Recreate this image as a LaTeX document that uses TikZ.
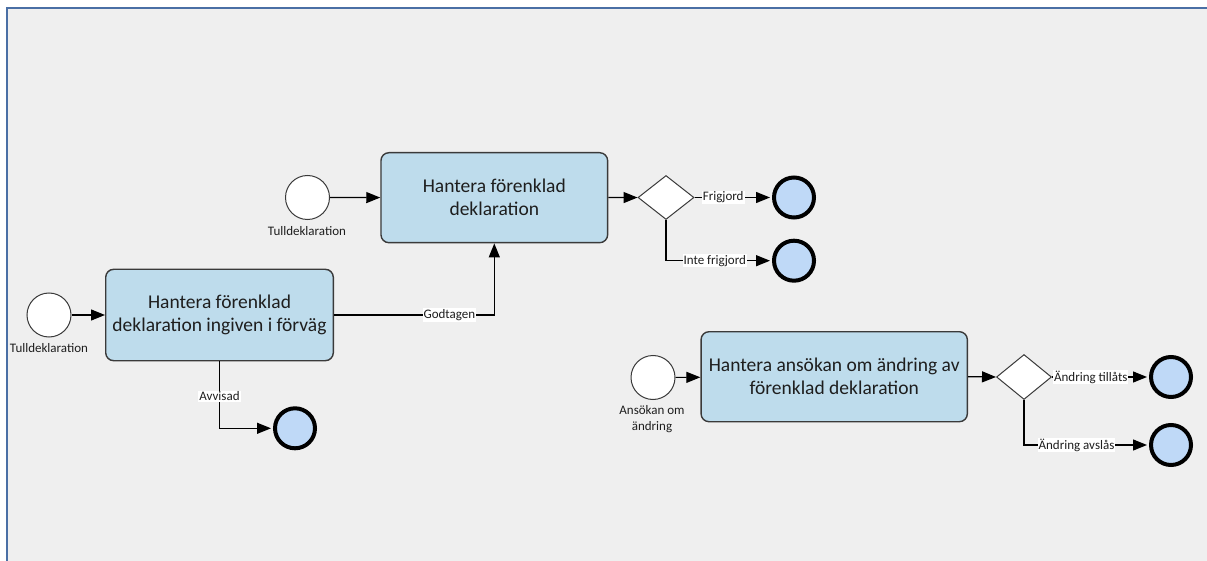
\documentclass[tikz,border=0pt]{standalone}
\usepackage{fontspec}
\setmainfont{Carlito}
\usetikzlibrary{shapes.geometric,arrows.meta}
\definecolor{bggray}{HTML}{EFEFEF}
\definecolor{frameblue}{HTML}{4A6FA5}
\definecolor{taskblue}{HTML}{BEDCEC}
\definecolor{endblue}{HTML}{BFD9F7}
\definecolor{inkgray}{HTML}{3A3A3A}
\definecolor{txt}{HTML}{1E1E1E}
\begin{document}
\begin{tikzpicture}[x=1pt,y=-1pt,
  task/.style={draw=inkgray,line width=1.4pt,fill=taskblue,rounded corners=8pt,
    inner sep=0pt,align=center,text=txt,font=\fontsize{19.5}{22.8}\selectfont},
  startev/.style={circle,draw=inkgray,line width=1pt,fill=white,minimum size=44pt,inner sep=0pt},
  endev/.style={circle,draw=black,line width=4pt,fill=endblue,minimum size=40pt,inner sep=0pt},
  gate/.style={diamond,draw=inkgray,line width=1pt,fill=white,inner sep=0pt},
  flow/.style={draw=black,line width=1.2pt,-{Triangle[length=14pt,width=11pt]}},
  elabel/.style={fill=white,inner sep=1pt,text=txt,font=\fontsize{13}{14}\selectfont},
  slabel/.style={text=txt,inner sep=0pt,align=center,font=\fontsize{13}{16}\selectfont}]
\useasboundingbox (0,0) rectangle (1207,561);
\fill[white] (0,0) rectangle (1207,561);
\fill[bggray] (7,8) rectangle (1207,561);
\draw[frameblue,line width=1.5pt] (7,561) -- (7,8) -- (1207,8);

% top lane
\node[startev] (s1) at (307.5,197.5) {};
\node[slabel] (l1) at (307,231) {Tulldeklaration};
\node[task,minimum width=226.7pt,minimum height=90pt] (t1) at (494.3,197.7) {Hantera förenklad\\deklaration};
\node[gate,minimum width=56pt,minimum height=44pt] (g1) at (666,197.5) {};
\node[endev] (e1) at (794,197.5) {};
\node[endev] (e2) at (794,260.7) {};

% left lane
\node[startev] (s2) at (49,315) {};
\node[slabel] (l2) at (49,348) {Tulldeklaration};
\node[task,minimum width=227.6pt,minimum height=91.4pt] (t2) at (219.5,315) {Hantera förenklad\\deklaration ingiven i förväg};
\node[endev] (e3) at (295,428.3) {};

% right lane
\node[startev] (s3) at (653,377.5) {};
\node[slabel] (l3) at (652,418.7) {Ansökan om\\ändring};
\node[task,minimum width=266.3pt,minimum height=90pt] (t3) at (834.2,376.7) {Hantera ansökan om ändring av\\förenklad deklaration};
\node[gate,minimum width=55pt,minimum height=45pt] (g3) at (1024,377) {};
\node[endev] (e4) at (1171,377) {};
\node[endev] (e5) at (1171,445) {};

% connectors
\draw[flow] (s1) -- (t1);
\draw[flow] (t1) -- (g1);
\draw[flow,shorten >=2pt] (g1.east) -- node[elabel,pos=0.37] {Frigjord} (e1.west);
\draw[flow,shorten >=2pt] (g1.south) |- node[elabel,pos=0.73] {Inte frigjord} (e2.west);

\draw[flow] (s2) -- (t2);
\draw[flow] (t2.east) -| node[elabel,pos=0.36] {Godtagen} (t1.south);
\draw[flow,shorten >=2pt] (t2.south) |- node[elabel,pos=0.26] {Avvisad} (e3.west);

\draw[flow] (s3) -- (t3);
\draw[flow] (t3.east) -- (g3.west);
\draw[flow,shorten >=2pt] (g3.east) -- node[elabel,pos=0.4] {Ändring tillåts} (e4.west);
\draw[flow,shorten >=2pt] (g3.south) |- node[elabel,pos=0.71] {Ändring avslås} (e5.west);
\end{tikzpicture}
\end{document}
